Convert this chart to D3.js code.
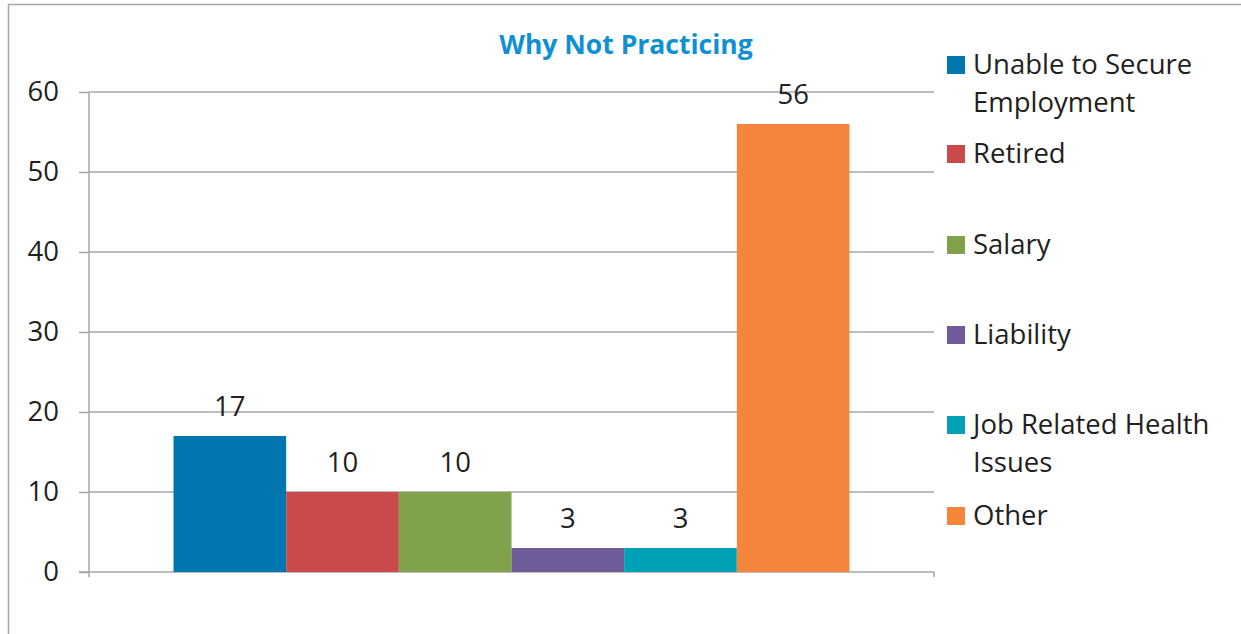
<!DOCTYPE html>
<html>
<head>
<meta charset="utf-8">
<script src="https://cdn.jsdelivr.net/npm/d3@7"></script>
<style>
  html, body { margin: 0; padding: 0; background: #ffffff; }
  svg { display: block; }
  text { font-family: "Open Sans", Lato, sans-serif; fill: #231f20; }
</style>
</head>
<body>
<svg id="chart" width="1241" height="634"></svg>
<script>
// Survey responses: reasons for not practicing
const categories = ["Unable to Secure Employment", "Retired", "Salary", "Liability", "Job Related Health Issues", "Other"];
const values = [17, 10, 10, 3, 3, 56];
const colors = ["#0076ae", "#c84a4a", "#80a24a", "#6f5b97", "#00a0b6", "#f4863b"];
const legendLines = [["Unable to Secure", "Employment"], ["Retired"], ["Salary"], ["Liability"], ["Job Related Health", "Issues"], ["Other"]];
const yTicks = [0, 10, 20, 30, 40, 50, 60];
const title = "Why Not Practicing";

const svg = d3.select("#chart");
const fontSize = 27.5;

// outer chart frame
svg.append("rect")
  .attr("x", 8.5).attr("y", 4.5).attr("width", 1250).attr("height", 650)
  .attr("fill", "none").attr("stroke", "#a6a6a6").attr("stroke-width", 1.5);

const plot = { left: 89, right: 934, top: 92, bottom: 572 };

const y = d3.scaleLinear().domain([0, 60]).range([plot.bottom, plot.top]);

// all six series sit in one category, 10% padding each side
const inset = (plot.right - plot.left) * 0.1;
const x = d3.scaleBand().domain(categories)
  .range([plot.left + inset, plot.right - inset])
  .padding(0);

// gridlines
svg.append("g").selectAll("line").data(yTicks.filter(d => d > 0)).join("line")
  .attr("x1", plot.left).attr("x2", plot.right)
  .attr("y1", d => y(d)).attr("y2", d => y(d))
  .attr("stroke", "#a6a6a6").attr("stroke-width", 1.5);

// y axis
const yAxis = d3.axisLeft(y).tickValues(yTicks).tickSize(10).tickPadding(20).tickFormat(d3.format("d"));
const gy = svg.append("g").attr("transform", `translate(${plot.left},0)`).call(yAxis);
gy.select(".domain").attr("d", `M0,${plot.top}V${plot.bottom + 5}`).attr("stroke", "#a6a6a6").attr("stroke-width", 1.5);
gy.selectAll(".tick line").attr("stroke", "#a6a6a6").attr("stroke-width", 1.5);
gy.selectAll(".tick text").attr("font-size", fontSize).attr("fill", "#231f20")
  .attr("font-family", "'Open Sans', Lato, sans-serif");

// x axis baseline with end tick
svg.append("line")
  .attr("x1", plot.left - 10).attr("x2", plot.right)
  .attr("y1", plot.bottom).attr("y2", plot.bottom)
  .attr("stroke", "#a6a6a6").attr("stroke-width", 1.5);
svg.append("line")
  .attr("x1", plot.right).attr("x2", plot.right)
  .attr("y1", plot.bottom).attr("y2", plot.bottom + 5)
  .attr("stroke", "#a6a6a6").attr("stroke-width", 1.5);

// bars
svg.append("g").selectAll("rect").data(values).join("rect")
  .attr("x", (d, i) => x(categories[i]))
  .attr("width", x.bandwidth())
  .attr("y", d => y(d))
  .attr("height", d => y(0) - y(d))
  .attr("fill", (d, i) => colors[i]);

// value labels
svg.append("g").selectAll("text").data(values).join("text")
  .attr("x", (d, i) => x(categories[i]) + x.bandwidth() / 2)
  .attr("y", d => y(d) - 20)
  .attr("text-anchor", "middle")
  .attr("font-size", fontSize)
  .text(d => d);

// title
svg.append("text")
  .attr("x", 626).attr("y", 54)
  .attr("text-anchor", "middle")
  .attr("font-size", 26.5).attr("font-weight", "bold")
  .style("fill", "#0e90d2")
  .text(title);

// legend
const legendRowY = [74, 163, 254, 344, 434, 525];
const legend = svg.append("g");
categories.forEach((c, i) => {
  legend.append("rect")
    .attr("x", 947).attr("y", legendRowY[i] - 18).attr("width", 18).attr("height", 18)
    .attr("fill", colors[i]);
  legendLines[i].forEach((line, j) => {
    legend.append("text")
      .attr("x", 973).attr("y", legendRowY[i] + j * 38)
      .attr("font-size", fontSize)
      .text(line);
  });
});
</script>
</body>
</html>
